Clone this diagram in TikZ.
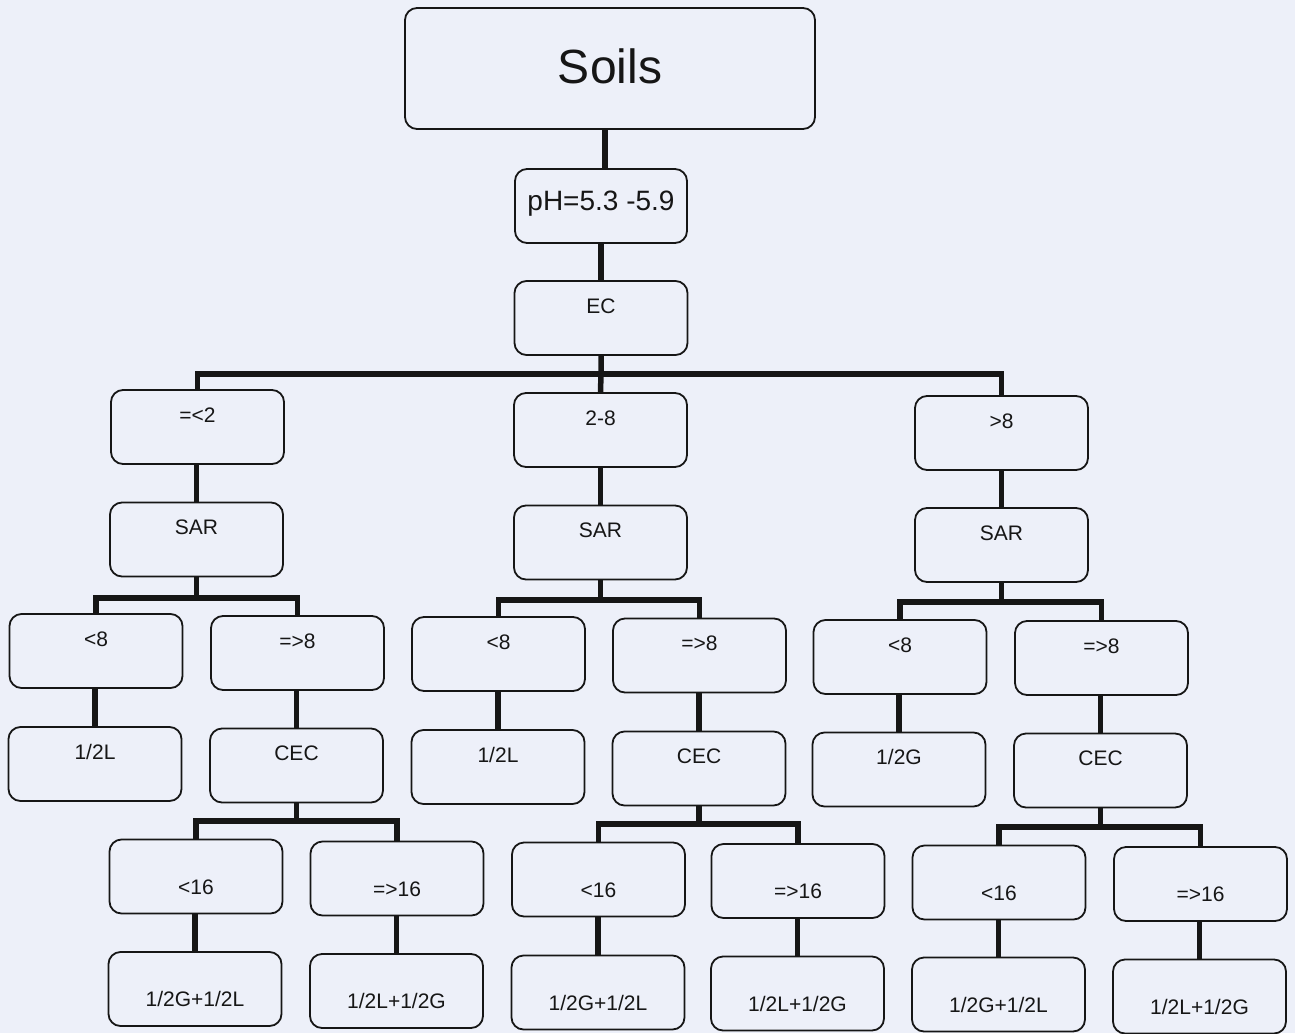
\documentclass[tikz,border=0pt]{standalone}
\usepackage{fontspec}
\setmainfont{Liberation Sans}
\definecolor{paper}{RGB}{237,240,249}
\definecolor{ink}{RGB}{22,22,22}
\tikzset{
  box/.style={draw=ink, line width=1.8pt, rounded corners=12pt,
    minimum width=173pt, minimum height=74pt, inner sep=0pt},
  txt/.style={font=\fontsize{21}{21}\selectfont, text=ink, anchor=base, inner sep=0pt},
  conn/.style={draw=ink, line width=5.5pt},
}
% box with its label in the upper part
\newcommand\upbox[4]{\node[box] (#1) at (#2,#3) {};
  \node[txt] (#1-t) at ([yshift=5pt]#1.center) {#4};}
% box with its label in the lower part
\newcommand\lowbox[4]{\node[box] (#1) at (#2,#3) {};
  \node[txt] (#1-t) at ([yshift=-17.5pt]#1.center) {#4};}
% straight vertical link dropped onto the child's top
\newcommand\vlink[2]{\draw[conn] (#2.north |- #1.south) -- (#2.north);}
\begin{document}
\begin{tikzpicture}[x=1pt,y=-1pt]
\useasboundingbox[fill=paper] (0,0) rectangle (1295,1033);

% root and first tests
\node[box, minimum width=410pt, minimum height=121pt] (soils) at (610,68.5) {};
\node[txt, font=\fontsize{48}{48}\selectfont] (soils-t) at ([yshift=-14.5pt]soils.center) {Soils};
\node[box, minimum width=172pt] (ph) at (601,206) {};
\node[txt, font=\fontsize{28}{28}\selectfont] (ph-t) at ([yshift=-4pt]ph.center) {pH=5.3 -5.9};
\upbox{ec}{601}{318}{EC}

% EC classes
\upbox{l}{197.5}{427}{=<2}
\upbox{m}{600.5}{430}{2-8}
\upbox{r}{1001.5}{433}{>8}

% left branch
\upbox{lsar}{196.5}{539.5}{SAR}
\upbox{llt}{96}{651}{<8}
\upbox{lge}{297.5}{653}{=>8}
\upbox{lhalf}{95}{764}{1/2L}
\upbox{lcec}{296.5}{765.5}{CEC}
\lowbox{llt16}{196}{876.5}{<16}
\lowbox{lge16}{397}{878.5}{=>16}
\lowbox{lres1}{195}{989}{1/2G+1/2L}
\lowbox{lres2}{396.5}{991}{1/2L+1/2G}

% middle branch
\upbox{msar}{600.5}{542.5}{SAR}
\upbox{mlt}{498.5}{654}{<8}
\upbox{mge}{699.5}{655.5}{=>8}
\upbox{mhalf}{498}{767}{1/2L}
\upbox{mcec}{699}{768.5}{CEC}
\lowbox{mlt16}{598.5}{879.5}{<16}
\lowbox{mge16}{798}{881}{=>16}
\lowbox{mres1}{598}{992.5}{1/2G+1/2L}
\lowbox{mres2}{797.5}{993.5}{1/2L+1/2G}

% right branch
\upbox{rsar}{1001.5}{545}{SAR}
\upbox{rlt}{900}{657}{<8}
\upbox{rge}{1101.5}{658}{=>8}
\upbox{rhalf}{899}{769.5}{1/2G}
\upbox{rcec}{1100.5}{770.5}{CEC}
\lowbox{rlt16}{999}{882.5}{<16}
\lowbox{rge16}{1200.5}{884}{=>16}
\lowbox{rres1}{998.5}{994.5}{1/2G+1/2L}
\lowbox{rres2}{1199.5}{996.5}{1/2L+1/2G}

% junction points of the branching bars
\coordinate (jec) at (601,374);
\coordinate (jl) at (196.5,598);
\coordinate (jm) at (600.5,600);
\coordinate (jr) at (1001.5,602);
\coordinate (jlc) at (296.5,821);
\coordinate (jmc) at (699,824);
\coordinate (jrc) at (1100.5,827);

% connectors
\draw[conn] ([xshift=4pt]ph.north |- soils.south) -- ([xshift=4pt]ph.north);
\vlink{ph}{ec}
\draw[conn] (ec.south) -- (jec) -- (m.north);
\draw[conn] (l.north) |- (jec) -| (r.north);

\vlink{l}{lsar}
\vlink{m}{msar}
\vlink{r}{rsar}

\draw[conn] (lsar.south) -- (jl);
\draw[conn] (llt.north) |- (jl) -| (lge.north);
\draw[conn] (msar.south) -- (jm);
\draw[conn] (mlt.north) |- (jm) -| (mge.north);
\draw[conn] (rsar.south) -- (jr);
\draw[conn] (rlt.north) |- (jr) -| (rge.north);

\vlink{llt}{lhalf}
\vlink{lge}{lcec}
\vlink{mlt}{mhalf}
\vlink{mge}{mcec}
\vlink{rlt}{rhalf}
\vlink{rge}{rcec}

\draw[conn] (lcec.south) -- (jlc);
\draw[conn] (llt16.north) |- (jlc) -| (lge16.north);
\draw[conn] (mcec.south) -- (jmc);
\draw[conn] (mlt16.north) |- (jmc) -| (mge16.north);
\draw[conn] (rcec.south) -- (jrc);
\draw[conn] (rlt16.north) |- (jrc) -| (rge16.north);

\vlink{llt16}{lres1}
\vlink{lge16}{lres2}
\vlink{mlt16}{mres1}
\vlink{mge16}{mres2}
\vlink{rlt16}{rres1}
\vlink{rge16}{rres2}
\end{tikzpicture}
\end{document}
